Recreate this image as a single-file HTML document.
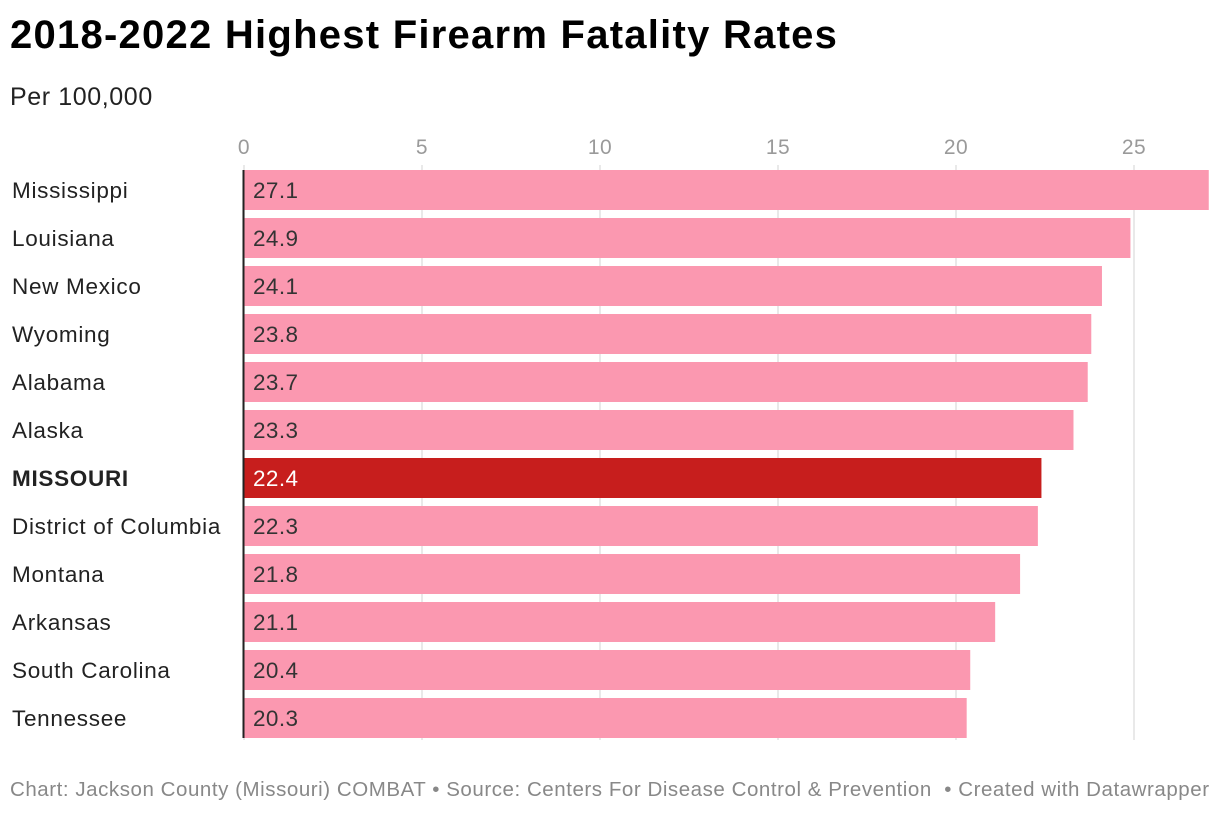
<!DOCTYPE html>
<html><head><meta charset="utf-8"><style>
body{margin:0;background:#fff;font-family:"Liberation Sans",sans-serif;}
#wrap{position:relative;width:1220px;height:814px;}
</style></head><body>
<div id="wrap">
<div style="position:absolute;left:10px;top:13px;font-size:40px;font-weight:bold;color:#000;letter-spacing:1.25px">2018-2022 Highest Firearm Fatality Rates</div>
<div style="position:absolute;left:10px;top:83px;font-size:25px;color:#222;letter-spacing:0.6px">Per 100,000</div>
<svg id="svg" width="1220" height="814" style="position:absolute;left:0;top:0"></svg>
<div style="position:absolute;left:10px;top:778px;font-size:20.5px;color:#888;letter-spacing:0.55px;white-space:nowrap">Chart: Jackson County (Missouri) COMBAT • Source: Centers For Disease Control &amp; Prevention &nbsp;• Created with Datawrapper</div>
</div>
<script>
const categories=["Mississippi","Louisiana","New Mexico","Wyoming","Alabama","Alaska","MISSOURI","District of Columbia","Montana","Arkansas","South Carolina","Tennessee"];
const values=[27.1,24.9,24.1,23.8,23.7,23.3,22.4,22.3,21.8,21.1,20.4,20.3];
const highlight=["MISSOURI"];
const ticks=[0,5,10,15,20,25];
const NS="http://www.w3.org/2000/svg";
const svg=document.getElementById('svg');
const x0=244,pxPer=35.6,top0=170,pitch=48,bh=40;
const xs=v=>x0+v*pxPer;
function mk(t,a){const e=document.createElementNS(NS,t);for(const k in a)e.setAttribute(k,a[k]);svg.appendChild(e);return e;}
ticks.forEach(t=>{
 const g=mk('line',{x1:xs(t),x2:xs(t),y1:165,y2:740,stroke:'#e2e2e2','stroke-width':1.5});
 
 
 const tx=mk('text',{x:xs(t),y:154,'text-anchor':'middle','font-size':21,fill:'#9a9a9a','font-family':'Liberation Sans','letter-spacing':0.5});
 tx.textContent=t;
 
 
});
categories.forEach((c,i)=>{
 const y=top0+i*pitch,hi=highlight.includes(c);
 const r=mk('rect',{x:x0,y:y,width:xs(values[i])-x0,height:bh,fill:hi?'#c71e1d':'#fb98b0'});
 
 
 const l=mk('text',{x:12,y:y+28,'font-size':22.5,fill:'#222','font-weight':hi?'bold':'normal','font-family':'Liberation Sans','letter-spacing':0.7});
 l.textContent=c;
 
 
 const v=mk('text',{x:x0+9,y:y+28,'font-size':22.5,fill:hi?'#fff':'#333','font-family':'Liberation Sans','letter-spacing':0.4});
 v.textContent=values[i].toFixed(1);
 
 
});
const ax=mk('line',{x1:x0-0.5,x2:x0-0.5,y1:170,y2:738,stroke:'#222','stroke-width':2});


</script>
</body></html>
